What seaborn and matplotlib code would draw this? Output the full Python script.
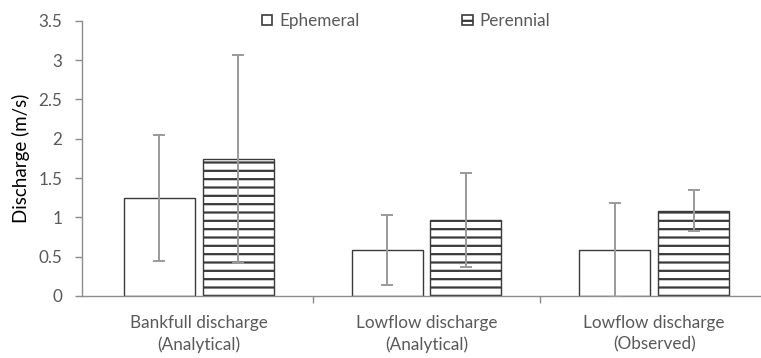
import matplotlib
matplotlib.use("Agg")
import matplotlib.pyplot as plt
import seaborn as sns
import pandas as pd
from matplotlib.patches import Patch
from matplotlib.container import BarContainer

categories = ["Bankfull discharge\n(Analytical)", "Lowflow discharge\n(Analytical)", "Lowflow discharge\n(Observed)"]
series = ["Ephemeral", "Perennial"]
ephemeral = [1.25, 0.585, 0.585]
perennial = [1.74, 0.965, 1.085]
ephemeral_err = [0.80, 0.445, 0.60]
perennial_err = [1.32, 0.60, 0.26]
y_ticks = [0, 0.5, 1, 1.5, 2, 2.5, 3, 3.5]
y_tick_labels = ["0", "0.5", "1", "1.5", "2", "2.5", "3", "3.5"]

sns.set_theme(style="white")
plt.rcParams['font.family'] = ['Lato', 'DejaVu Sans']
plt.rcParams['hatch.linewidth'] = 1.6

text_color = "#595959"
axis_color = "#8c8c8c"
edge_color = "#3a3a3a"
err_color = "#9a9a9a"
fs = 12.3

df = pd.DataFrame({
    "Category": categories * 2,
    "Type": [series[0]] * 3 + [series[1]] * 3,
    "Discharge": ephemeral + perennial,
})

fig = plt.figure(figsize=(7.61, 3.58), dpi=100)
ax = fig.add_axes([82 / 761, (358 - 296) / 358, (760 - 82) / 761, (296 - 20.7) / 358])

sns.barplot(data=df, x="Category", y="Discharge", hue="Type", hue_order=series,
            palette=["white", "white"], width=0.693, gap=0.1, errorbar=None,
            edgecolor=edge_color, linewidth=1.0, legend=False, ax=ax, saturation=1)

errs = [ephemeral_err, perennial_err]
vals = [ephemeral, perennial]
bar_conts = [c for c in ax.containers if isinstance(c, BarContainer)]
for i, cont in enumerate(bar_conts):
    xs = []
    for p in cont.patches:
        xs.append(p.get_x() + p.get_width() / 2)
        if i == 1:
            p.set_hatch("--")
    ax.errorbar(xs, vals[i], yerr=errs[i], fmt="none", ecolor=err_color,
                elinewidth=1.4, capsize=4, capthick=1.4, zorder=5)

ax.set_ylim(0, 3.5)
ax.set_xlim(-0.513, 2.465)
ax.set_yticks(y_ticks)
ax.set_yticklabels(y_tick_labels)
ax.set_ylabel("Discharge (m/s)", fontsize=13.5, color="black", labelpad=6)
ax.set_xlabel("")

ax.set_xticks([0, 1, 2])
ax.set_xticklabels(categories, fontsize=fs, color=text_color, linespacing=1.35)
ax.tick_params(axis="x", length=0, pad=14)
ax.set_xticks([0.5, 1.5], minor=True)
ax.tick_params(axis="x", which="minor", length=5, width=1, color=axis_color, direction="out", bottom=True)
ax.tick_params(axis="y", length=5, width=1, color=axis_color, direction="out", left=True,
               labelsize=fs, labelcolor=text_color, pad=9)

for s in ["top", "right"]:
    ax.spines[s].set_visible(False)
for s in ["left", "bottom"]:
    ax.spines[s].set_color(axis_color)
    ax.spines[s].set_linewidth(1.0)

handles = [Patch(facecolor="white", edgecolor=edge_color, linewidth=1.2, label=series[0]),
           Patch(facecolor="white", edgecolor=edge_color, linewidth=1.2, hatch="--", label=series[1])]
leg = fig.legend(handles=handles, loc="center left", bbox_to_anchor=(262 / 761, 1 - 21 / 358), ncol=2,
                 frameon=False, handlelength=0.6, handleheight=0.6, handletextpad=0.42,
                 columnspacing=6.0, fontsize=fs, borderpad=0, borderaxespad=0)
for t in leg.get_texts():
    t.set_color(text_color)

fig.savefig("out.png", dpi=100)
